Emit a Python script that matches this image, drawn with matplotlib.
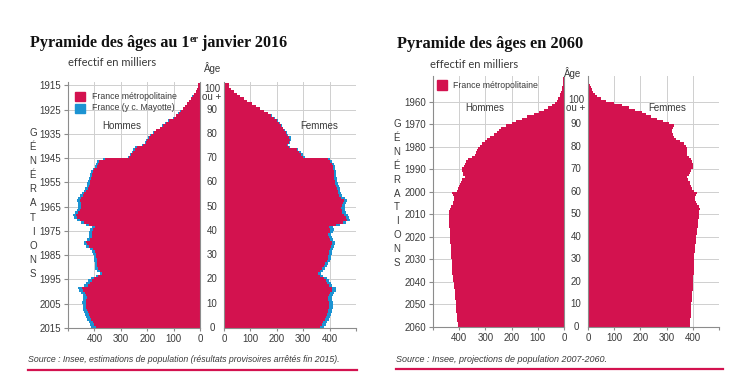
import matplotlib
matplotlib.use('Agg')
import matplotlib.pyplot as plt
import numpy as np
from matplotlib import font_manager, transforms
from matplotlib.lines import Line2D
from matplotlib.patches import Rectangle

W, H = 747, 379
PINK = '#D3124F'
BLUE = '#1C93D2'
GRID = '#CFCFCF'
SPINE = '#8C8C8C'
TXT = '#3A3A3A'

names = {f.name for f in font_manager.fontManager.ttflist}
NARROW = 'Liberation Sans Narrow' if 'Liberation Sans Narrow' in names else 'Liberation Sans'
plt.rcParams['font.family'] = [NARROW, 'DejaVu Sans']
FS = 7.5 if NARROW.endswith('Narrow') else 7

# ---------------- data (milliers, par âge) ----------------
# 1er janvier 2016, âges 0..100 (100 = 100 ou +)
hommes_2016 = [395, 400, 405, 412, 415, 420, 425, 428, 430, 430,
               432, 430, 428, 430, 436, 445, 447, 425, 418, 410,
               402, 385, 370, 380, 388, 390, 390, 392, 392, 393,
               395, 398, 405, 420, 428, 430, 418, 410, 410, 408,
               405, 398, 420, 440, 455, 465, 468, 462, 455, 452,
               450, 452, 455, 450, 445, 438, 430, 425, 420, 418,
               415, 412, 410, 408, 405, 400, 392, 388, 382, 360,
               268, 262, 252, 248, 240, 215, 205, 200, 192, 185,
               175, 165, 150, 140, 128, 118, 100, 90, 80, 72,
               64, 55, 48, 42, 34, 28, 22, 16, 12, 9, 6]
femmes_2016 = [362, 370, 376, 382, 386, 390, 393, 395, 396, 396,
               397, 395, 393, 396, 402, 410, 408, 396, 392, 386,
               380, 365, 357, 364, 372, 378, 384, 390, 393, 395,
               397, 398, 400, 405, 410, 410, 402, 396, 395, 400,
               402, 398, 425, 450, 465, 462, 455, 448, 446, 445,
               448, 452, 454, 445, 436, 432, 430, 428, 425, 422,
               420, 418, 416, 415, 415, 414, 412, 410, 402, 395,
               300, 292, 285, 275, 245, 238, 245, 250, 248, 240,
               235, 228, 222, 215, 208, 200, 190, 178, 165, 150,
               135, 120, 105, 88, 75, 60, 48, 37, 27, 20, 18]
# supplément DOM (y c. Mayotte)
dom_hommes = [16, 16, 16, 16, 15, 15, 15, 15, 15, 15,
              15, 15, 15, 15, 15, 15, 15, 15, 14, 13,
              11, 10, 9, 9, 9, 9, 9, 9, 9, 9,
              10, 10, 10, 10, 10, 10, 10, 11, 11, 11,
              11, 11, 12, 12, 12, 12, 12, 12, 12, 12,
              11, 11, 11, 11, 10, 10, 10, 10, 9, 9,
              9, 9, 8, 8, 8, 7, 7, 7, 7, 6,
              6, 5, 5, 5, 5, 5, 4, 4, 4, 4,
              3, 3, 3, 3, 3, 2, 2, 2, 2, 2,
              1, 1, 1, 1, 1, 1, 1, 1, 0, 0, 0]
dom_femmes = [15, 15, 15, 15, 15, 15, 15, 15, 15, 15,
              15, 15, 15, 15, 15, 15, 15, 14, 14, 13,
              12, 11, 11, 11, 11, 11, 11, 11, 11, 11,
              12, 12, 12, 12, 12, 12, 12, 12, 12, 12,
              13, 13, 13, 13, 13, 13, 13, 13, 13, 13,
              12, 12, 12, 12, 11, 11, 11, 10, 10, 10,
              9, 9, 9, 8, 8, 8, 7, 7, 7, 7,
              6, 6, 6, 6, 5, 5, 5, 5, 4, 4,
              4, 4, 3, 3, 3, 3, 2, 2, 2, 2,
              2, 1, 1, 1, 1, 1, 1, 1, 1, 0, 0]
years_2016 = ['2015', '2005', '1995', '1985', '1975', '1965', '1955', '1945', '1935', '1925', '1915']

# projection 2060, âges 0..110
hommes_2060 = [405, 406, 407, 408, 409, 410, 411, 412, 413, 413,
               414, 414, 415, 415, 416, 416, 417, 418, 420, 421,
               423, 424, 425, 426, 427, 427, 428, 428, 429, 429,
               430, 430, 431, 431, 432, 432, 433, 434, 434, 435,
               435, 436, 436, 437, 438, 438, 439, 440, 440, 440,
               439, 438, 436, 430, 425, 423, 421, 420, 425, 428,
               410, 405, 400, 396, 392, 388, 378, 384, 386, 389,
               389, 382, 378, 374, 368, 350, 340, 336, 333, 330,
               320, 312, 302, 292, 282, 268, 256, 248, 240, 222,
               200, 182, 162, 140, 115, 95, 76, 60, 47, 36,
               28, 22, 17, 14, 11, 9, 7, 5, 4, 3, 2]
femmes_2060 = [389, 390, 391, 391, 392, 393, 393, 394, 394, 395,
               395, 396, 396, 397, 397, 398, 399, 399, 400, 400,
               401, 402, 402, 403, 403, 403, 403, 404, 404, 404,
               404, 405, 406, 407, 408, 409, 410, 411, 412, 413,
               414, 415, 416, 417, 418, 419, 420, 421, 422, 423,
               424, 425, 426, 422, 416, 412, 408, 410, 413, 415,
               405, 398, 394, 390, 388, 382, 376, 385, 390, 395,
               400, 402, 400, 398, 395, 385, 378, 376, 377, 378,
               374, 365, 350, 335, 328, 324, 320, 322, 326, 328,
               310, 285, 262, 240, 222, 205, 180, 155, 128, 98,
               70, 48, 35, 25, 19, 14, 10, 7, 5, 3, 2]
years_2060 = ['2060', '2050', '2040', '2030', '2020', '2010', '2000', '1990', '1980', '1970', '1960']

age_ticks = [0, 10, 20, 30, 40, 50, 60, 70, 80, 90, 100]
x_ticks = [0, 100, 200, 300, 400, 500]
x_labels = ['0', '100', '200', '300', '400', '']

fig = plt.figure(figsize=(W / 100, H / 100), dpi=100)


def px_axes(x0, x1, y0, y1):
    return fig.add_axes([x0 / W, 1 - y1 / H, (x1 - x0) / W, (y1 - y0) / H])


def panel(ax, ytop, male, year_labels):
    ax.set_ylim(0, ytop)
    ax.set_xlim((500, 0) if male else (0, 500))
    ax.set_xticks(x_ticks)
    ax.set_xticklabels(x_labels)
    ax.set_yticks(age_ticks)
    ax.grid(True, color=GRID, lw=0.7)
    ax.set_axisbelow(True)
    ax.spines['top'].set_visible(False)
    for s in ax.spines.values():
        s.set_color(SPINE)
        s.set_linewidth(0.8)
    ax.tick_params(axis='x', length=2.5, pad=2, labelsize=FS, colors=SPINE, labelcolor=TXT)
    if male:
        ax.set_yticklabels(year_labels)
        ax.tick_params(axis='y', length=3, pad=2, labelsize=FS, colors=SPINE, labelcolor=TXT)
    else:
        ax.spines['right'].set_visible(False)
        ax.set_yticklabels([])
        ax.tick_params(axis='y', length=0)


def bars(ax, metro, extra=None):
    ages = np.arange(len(metro))
    if extra is not None:
        ax.barh(ages, np.array(metro) + np.array(extra), height=1, align='edge', color=BLUE, lw=0)
    ax.barh(ages, metro, height=1, align='edge', color=PINK, lw=0)


def ftext(x, y, s, **kw):
    return fig.text(x / W, 1 - y / H, s, **kw)


def title(x, y, parts):
    r = fig.canvas.get_renderer()
    for s, size, rise in parts:
        t = ftext(x, y - rise, s, fontsize=size, fontweight='bold', family='Liberation Serif',
                  va='baseline', color='#111111')
        x = t.get_window_extent(r).x1


def age_labels(ax, xc, hundred):
    tr = transforms.blended_transform_factory(fig.transFigure, ax.transData)
    for a in age_ticks[:-1]:
        ax.text(xc / W, a, str(a), transform=tr, ha='center', va='center', fontsize=FS, color=TXT)
    ax.text(xc / W, hundred, '100\nou +', transform=tr, ha='center', va='center',
            fontsize=FS, linespacing=0.75, color=TXT)


def generations(x, y0, step):
    for i, ch in enumerate('GÉNÉRATIONS'):
        ftext(x, y0 + i * step, ch, ha='center', va='center', fontsize=FS, color=TXT)


# ---------------- 2016 ----------------
axm = px_axes(68, 200, 81.6, 328)
axf = px_axes(224, 356, 81.6, 328)
panel(axm, 101.5, True, years_2016)
panel(axf, 101.5, False, None)
bars(axm, hommes_2016, dom_hommes)
bars(axf, femmes_2016, dom_femmes)
age_labels(axf, 212, 96.8)
ftext(213, 68.5, 'Âge', ha='center', va='center', fontsize=FS, color=TXT)
axm.text(0.41, 0.82, 'Hommes', transform=axm.transAxes, ha='center', va='center', fontsize=FS, color=TXT)
axf.text(0.72, 0.82, 'Femmes', transform=axf.transAxes, ha='center', va='center', fontsize=FS, color=TXT)
fig.add_artist(Rectangle((75 / W, 1 - 101 / H), 10 / W, 9 / H, color=PINK, transform=fig.transFigure))
fig.add_artist(Rectangle((75 / W, 1 - 112.5 / H), 10 / W, 9 / H, color=BLUE, transform=fig.transFigure))
ftext(92, 96.5, 'France métropolitaine', va='center', fontsize=6.3, color=TXT)
ftext(92, 108, 'France (y c. Mayotte)', va='center', fontsize=6.3, color=TXT)
generations(33, 133, 14.1)
title(30, 46.7, [('Pyramide des âges au 1', 11.6, 0), ('er', 7.2, 4.3), (' janvier 2016', 11.6, 0)])
ftext(68, 62.5, 'effectif en milliers', va='center', fontsize=8, family='Lato', color=TXT)
ftext(28, 359.5, 'Source : Insee, estimations de population (résultats provisoires arrêtés fin 2015).',
      va='center', fontsize=6.35, style='italic', color=TXT)
fig.add_artist(Line2D([28 / W, 357 / W], [1 - 369.5 / H] * 2, color=PINK, lw=1.6, transform=fig.transFigure))

# ---------------- 2060 ----------------
bxm = px_axes(433, 564, 76, 327)
bxf = px_axes(588, 719, 76, 327)
panel(bxm, 111.5, True, years_2060)
panel(bxf, 111.5, False, None)
bars(bxm, hommes_2060)
bars(bxf, femmes_2060)
age_labels(bxf, 576, 99.2)
ftext(573, 73, 'Âge', ha='center', va='center', fontsize=FS, color=TXT)
ftext(485, 108, 'Hommes', ha='center', va='center', fontsize=FS, color=TXT)
ftext(667, 108, 'Femmes', ha='center', va='center', fontsize=FS, color=TXT)
fig.add_artist(Rectangle((437 / W, 1 - 90 / H), 10 / W, 10 / H, color=PINK, transform=fig.transFigure))
ftext(453, 85, 'France métropolitaine', va='center', fontsize=6.3, color=TXT)
generations(397, 124, 13.9)
title(397, 48.3, [('Pyramide des âges en 2060', 11.8, 0)])
ftext(430, 65, 'effectif en milliers', va='center', fontsize=8, family='Lato', color=TXT)
ftext(396, 360, 'Source : Insee, projections de population 2007-2060.',
      va='center', fontsize=6.45, style='italic', color=TXT)
fig.add_artist(Line2D([396 / W, 723 / W], [1 - 368.5 / H] * 2, color=PINK, lw=1.6, transform=fig.transFigure))

fig.savefig('out.png', dpi=100)
